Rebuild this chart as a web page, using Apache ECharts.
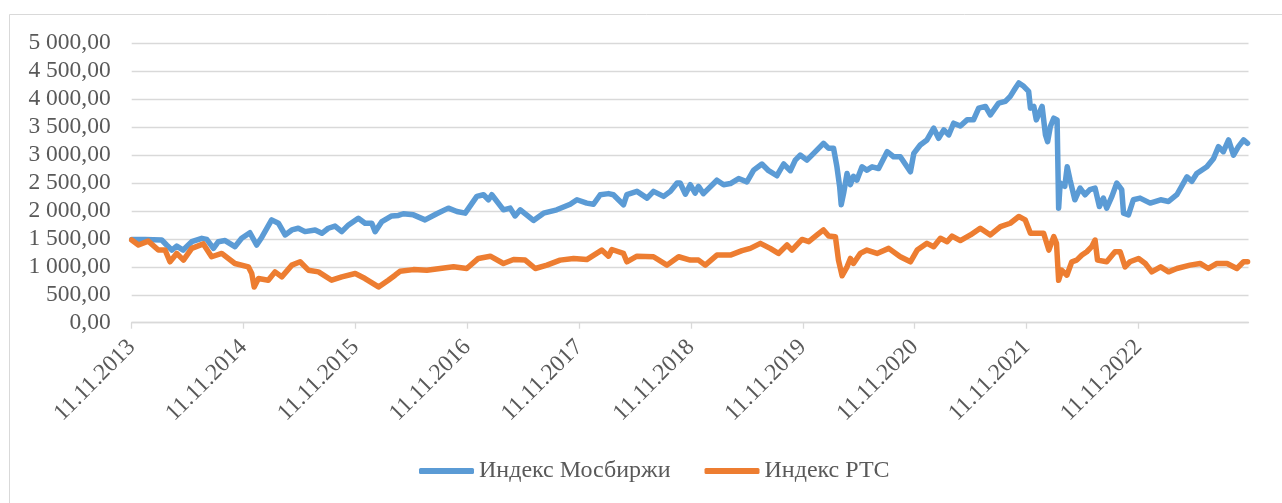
<!DOCTYPE html>
<html>
<head>
    <meta charset="utf-8">
    <title>Индекс Мосбиржи и Индекс РТС</title>
    <script src="https://cdn.jsdelivr.net/npm/echarts@6.0.0/dist/echarts.min.js"></script>
    <style>
        html, body { margin: 0; padding: 0; background: #fff; }
        #chart { width: 1282px; height: 503px; }
    </style>
</head>
<body>
<div id="chart"></div>

<script>
    // ticks on the date axis (one per year from the first date)
    var tickLabels = ['11.11.2013', '11.11.2014', '11.11.2015', '11.11.2016', '11.11.2017',
        '11.11.2018', '11.11.2019', '11.11.2020', '11.11.2021', '11.11.2022'];

    var moexDates = [
        '2013-11-11', '2013-12-24', '2014-02-17', '2014-03-05', '2014-03-22', '2014-04-07', '2014-04-28', '2014-05-26',
        '2014-06-28', '2014-07-14', '2014-08-05', '2014-08-21', '2014-09-12', '2014-10-14', '2014-11-05', '2014-12-02',
        '2014-12-24', '2015-01-10', '2015-02-11', '2015-03-05', '2015-03-27', '2015-04-18', '2015-05-09', '2015-05-31',
        '2015-07-03', '2015-07-25', '2015-08-15', '2015-09-06', '2015-09-28', '2015-10-20', '2015-11-21', '2015-12-13',
        '2016-01-04', '2016-01-15', '2016-02-06', '2016-03-09', '2016-03-31', '2016-04-16', '2016-05-19', '2016-06-26',
        '2016-08-03', '2016-09-10', '2016-10-08', '2016-11-04', '2016-12-12', '2017-01-03', '2017-01-19', '2017-01-30',
        '2017-03-09', '2017-03-31', '2017-04-16', '2017-05-03', '2017-06-15', '2017-07-18', '2017-08-30', '2017-10-13',
        '2017-11-04', '2017-12-06', '2017-12-28', '2018-01-19', '2018-02-15', '2018-03-03', '2018-04-05', '2018-04-16',
        '2018-05-19', '2018-06-21', '2018-07-12', '2018-08-14', '2018-09-05', '2018-09-27', '2018-10-07', '2018-10-24',
        '2018-11-09', '2018-11-25', '2018-12-06', '2018-12-22', '2019-02-04', '2019-02-26', '2019-03-20', '2019-04-16',
        '2019-05-13', '2019-06-04', '2019-07-01', '2019-07-23', '2019-08-19', '2019-09-10', '2019-10-02', '2019-10-18',
        '2019-11-03', '2019-11-25', '2019-12-17', '2020-01-18', '2020-02-04', '2020-02-20', '2020-03-02', '2020-03-11',
        '2020-03-16', '2020-03-24', '2020-04-04', '2020-04-15', '2020-04-25', '2020-05-06', '2020-05-23', '2020-06-08',
        '2020-06-25', '2020-07-16', '2020-08-13', '2020-09-03', '2020-09-25', '2020-10-28', '2020-11-08', '2020-11-29',
        '2020-12-21', '2021-01-12', '2021-01-28', '2021-02-14', '2021-03-02', '2021-03-18', '2021-04-09', '2021-05-01',
        '2021-05-22', '2021-06-08', '2021-06-30', '2021-07-16', '2021-08-12', '2021-09-03', '2021-09-19', '2021-10-06',
        '2021-10-17', '2021-11-02', '2021-11-18', '2021-11-24', '2021-12-05', '2021-12-13', '2022-01-01', '2022-01-12',
        '2022-01-19', '2022-01-28', '2022-02-08', '2022-02-19', '2022-02-24', '2022-03-01', '2022-03-16', '2022-03-24',
        '2022-04-02', '2022-04-18', '2022-05-05', '2022-05-21', '2022-06-06', '2022-06-23', '2022-07-07', '2022-07-20',
        '2022-07-31', '2022-08-17', '2022-09-02', '2022-09-18', '2022-09-24', '2022-10-10', '2022-10-26', '2022-11-17',
        '2022-12-20', '2023-01-23', '2023-02-18', '2023-03-17', '2023-04-19', '2023-05-05', '2023-05-21', '2023-06-23',
        '2023-07-15', '2023-07-31', '2023-08-16', '2023-09-02', '2023-09-18', '2023-10-04', '2023-10-21', '2023-11-03'
    ];
    var moexValues = [
        1490, 1490, 1480, 1390, 1300, 1370, 1300, 1450,
        1510, 1490, 1330, 1450, 1470, 1360, 1510, 1610,
        1390, 1530, 1840, 1780, 1570, 1660, 1690, 1630,
        1660, 1600, 1690, 1730, 1630, 1750, 1870, 1780,
        1780, 1630, 1810, 1910, 1920, 1950, 1930, 1840,
        1950, 2050, 1990, 1960, 2260, 2290, 2200, 2290,
        2020, 2050, 1910, 2020, 1830, 1960, 2020, 2120,
        2200, 2140, 2120, 2290, 2310, 2290, 2110, 2290,
        2350, 2230, 2350, 2260, 2350, 2500, 2500, 2300,
        2470, 2320, 2440, 2310, 2550, 2470, 2490, 2580,
        2520, 2730, 2840, 2720, 2630, 2840, 2720, 2910,
        3000, 2910, 3030, 3210, 3120, 3120, 2790, 2430,
        2110, 2320, 2670, 2470, 2620, 2550, 2790, 2730,
        2790, 2760, 3060, 2970, 2970, 2700, 3030, 3180,
        3270, 3480, 3300, 3450, 3360, 3570, 3520, 3630,
        3630, 3840, 3870, 3720, 3930, 3960, 4050, 4200,
        4290, 4230, 4140, 3840, 3870, 3630, 3870, 3360,
        3240, 3510, 3660, 3630, 2050, 2500, 2440, 2790,
        2560, 2200, 2410, 2290, 2380, 2410, 2080, 2230,
        2050, 2260, 2500, 2380, 1960, 1930, 2200, 2230,
        2140, 2200, 2170, 2290, 2610, 2530, 2670, 2790,
        2940, 3150, 3060, 3270, 3000, 3150, 3270, 3210
    ];

    var rtsDates = [
        '2013-11-11', '2013-12-03', '2014-01-04', '2014-02-06', '2014-02-28', '2014-03-16', '2014-04-07', '2014-04-29',
        '2014-05-26', '2014-07-03', '2014-07-30', '2014-09-01', '2014-10-14', '2014-11-27', '2014-12-08', '2014-12-16',
        '2014-12-30', '2015-01-31', '2015-02-22', '2015-03-16', '2015-04-18', '2015-05-15', '2015-06-11', '2015-07-14',
        '2015-08-26', '2015-09-28', '2015-11-11', '2015-12-13', '2016-01-26', '2016-02-27', '2016-03-20', '2016-04-05',
        '2016-05-19', '2016-07-02', '2016-08-14', '2016-09-27', '2016-11-09', '2016-12-17', '2017-01-25', '2017-03-09',
        '2017-04-11', '2017-05-19', '2017-06-21', '2017-07-29', '2017-09-10', '2017-10-24', '2017-12-06', '2018-01-24',
        '2018-02-15', '2018-02-26', '2018-04-05', '2018-04-16', '2018-05-19', '2018-07-12', '2018-08-25', '2018-10-02',
        '2018-11-09', '2018-12-06', '2018-12-28', '2019-02-04', '2019-03-20', '2019-04-27', '2019-05-24', '2019-06-26',
        '2019-07-28', '2019-08-24', '2019-09-21', '2019-10-07', '2019-11-09', '2019-12-01', '2019-12-28', '2020-01-18',
        '2020-02-04', '2020-02-26', '2020-03-07', '2020-03-19', '2020-04-04', '2020-04-15', '2020-04-25', '2020-05-17',
        '2020-06-08', '2020-07-11', '2020-08-18', '2020-09-25', '2020-10-28', '2020-11-19', '2020-12-21', '2021-01-12',
        '2021-02-03', '2021-02-25', '2021-03-13', '2021-04-09', '2021-05-12', '2021-06-13', '2021-07-16', '2021-08-18',
        '2021-09-19', '2021-10-17', '2021-11-07', '2021-11-24', '2021-12-16', '2022-01-06', '2022-01-23', '2022-02-08',
        '2022-02-17', '2022-02-24', '2022-03-06', '2022-03-23', '2022-04-08', '2022-04-24', '2022-05-11', '2022-05-27',
        '2022-06-12', '2022-06-23', '2022-07-01', '2022-07-31', '2022-08-27', '2022-09-13', '2022-09-29', '2022-10-15',
        '2022-11-12', '2022-12-04', '2022-12-25', '2023-01-23', '2023-02-18', '2023-03-17', '2023-04-29', '2023-06-01',
        '2023-06-28', '2023-07-26', '2023-08-28', '2023-09-29', '2023-10-21', '2023-11-03'
    ];
    var rtsValues = [
        1480, 1390, 1460, 1300, 1300, 1090, 1240, 1120,
        1330, 1410, 1180, 1240, 1060, 1000, 880, 640,
        790, 760, 910, 820, 1030, 1090, 940, 910,
        760, 820, 880, 790, 640, 760, 850, 920,
        950, 940, 970, 1000, 970, 1150, 1190, 1060,
        1130, 1120, 970, 1030, 1120, 1150, 1130, 1300,
        1190, 1310, 1240, 1090, 1190, 1180, 1030, 1180,
        1120, 1120, 1030, 1210, 1210, 1290, 1330, 1420,
        1330, 1240, 1390, 1300, 1490, 1450, 1570, 1660,
        1550, 1540, 1120, 840, 1000, 1150, 1060, 1240,
        1300, 1240, 1330, 1180, 1090, 1300, 1420, 1360,
        1510, 1450, 1550, 1470, 1570, 1690, 1570, 1720,
        1780, 1900, 1840, 1600, 1600, 1600, 1300, 1540,
        1420, 760, 940, 850, 1090, 1120, 1210, 1270,
        1360, 1480, 1120, 1090, 1270, 1270, 1000, 1090,
        1150, 1060, 910, 1000, 910, 970, 1030, 1060,
        970, 1060, 1060, 970, 1090, 1090
    ];

    var startTime = Date.parse('2013-11-11');
    var yearMs = 365.25 * 24 * 3600 * 1000;

    // x position = years since the first date
    function toPoints(dates, values) {
        return dates.map(function (d, i) {
            return [(Date.parse(d) - startTime) / yearMs, values[i]];
        });
    }

    function formatRu(v) {
        var s = String(Math.round(v));
        s = s.replace(/\B(?=(\d{3})+(?!\d))/g, ' ');
        return s + ',00';
    }

    var textColor = '#595959';
    var gridColor = '#D9D9D9';
    var font = '"Liberation Serif", "Times New Roman", serif';
    var tickPos = tickLabels.map(function (l, i) { return i; });

    var chart = echarts.init(document.getElementById('chart'));

    chart.setOption({
        animation: false,
        backgroundColor: '#fff',
        graphic: [{
            type: 'rect',
            shape: { x: 9.5, y: 14.5, width: 1400, height: 600 },
            style: { fill: 'none', stroke: gridColor, lineWidth: 1 },
            silent: true
        }],
        grid: {
            left: 131.7,
            right: 33.5,
            top: 43.3,
            bottom: 180.3,
            containLabel: false
        },
        legend: {
            left: 414,
            top: 454,
            icon: 'roundRect',
            itemWidth: 55,
            itemHeight: 6,
            itemGap: 34,
            textStyle: { color: textColor, fontFamily: font, fontSize: 24 },
            data: ['Индекс Мосбиржи', 'Индекс РТС']
        },
        xAxis: {
            type: 'value',
            min: 0,
            max: 9.985,
            interval: 1,
            axisLine: { show: true, lineStyle: { color: gridColor, width: 1.3 } },
            axisTick: {
                show: true,
                length: 6,
                lineStyle: { color: gridColor, width: 1.3 },
                customValues: tickPos
            },
            splitLine: { show: false },
            axisLabel: {
                rotate: 45,
                margin: 21,
                color: textColor,
                fontFamily: font,
                fontSize: 23.5,
                customValues: tickPos,
                formatter: function (v) {
                    return tickLabels[Math.round(v)] || '';
                }
            }
        },
        yAxis: {
            type: 'value',
            min: 0,
            max: 5000,
            interval: 500,
            axisLine: { show: false },
            axisTick: { show: false },
            splitLine: { lineStyle: { color: gridColor, width: 1.3 } },
            axisLabel: {
                margin: 21,
                color: textColor,
                fontFamily: font,
                fontSize: 23.5,
                formatter: formatRu
            }
        },
        series: [{
            name: 'Индекс Мосбиржи',
            type: 'line',
            symbol: 'none',
            data: toPoints(moexDates, moexValues),
            itemStyle: { color: '#5B9BD5' },
            lineStyle: { color: '#5B9BD5', width: 5.5, cap: 'round', join: 'round' }
        }, {
            name: 'Индекс РТС',
            type: 'line',
            symbol: 'none',
            data: toPoints(rtsDates, rtsValues),
            itemStyle: { color: '#ED7D31' },
            lineStyle: { color: '#ED7D31', width: 5.5, cap: 'round', join: 'round' }
        }]
    });
</script>
</body>
</html>
